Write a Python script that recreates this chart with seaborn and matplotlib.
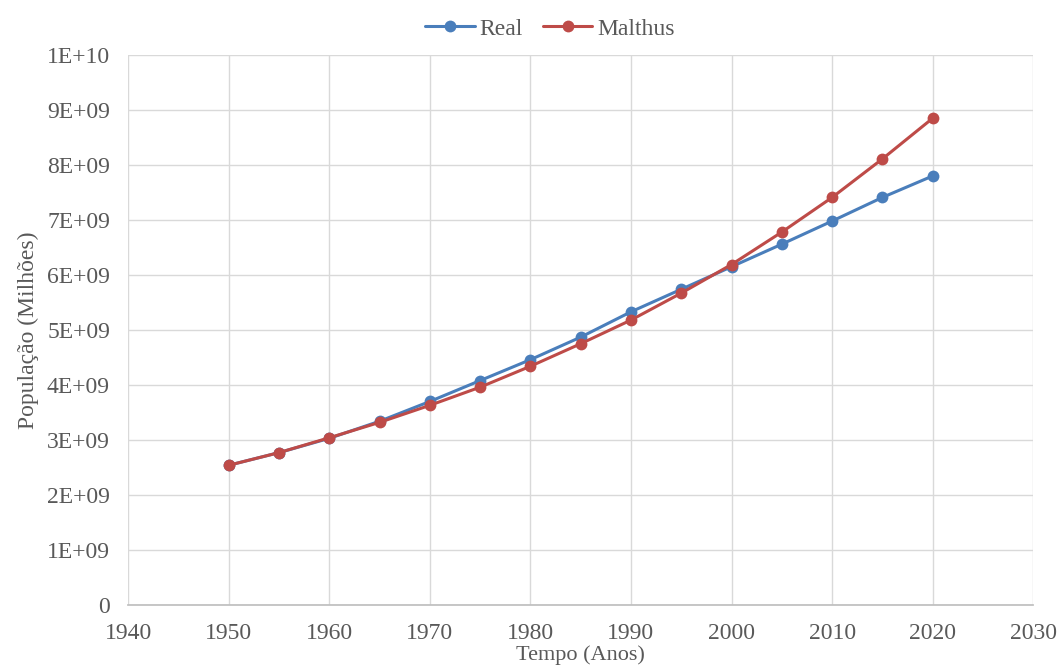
import math
import pandas as pd
import seaborn as sns
import matplotlib.pyplot as plt
from matplotlib.ticker import FuncFormatter

anos = [1950, 1955, 1960, 1965, 1970, 1975, 1980, 1985, 1990, 1995, 2000, 2005, 2010, 2015, 2020]
real = [2.54e9, 2.77e9, 3.03e9, 3.34e9, 3.70e9, 4.08e9, 4.46e9, 4.87e9, 5.33e9, 5.74e9,
        6.15e9, 6.56e9, 6.98e9, 7.41e9, 7.80e9]
malthus = [2.54e9, 2.77e9, 3.04e9, 3.32e9, 3.63e9, 3.96e9, 4.34e9, 4.75e9, 5.18e9, 5.67e9,
           6.19e9, 6.78e9, 7.41e9, 8.11e9, 8.85e9]

df = pd.DataFrame({"ano": anos * 2,
                   "pop": real + malthus,
                   "serie": ["Real"] * len(anos) + ["Malthus"] * len(anos)})

sns.set_theme(style="whitegrid")
plt.rcParams["font.family"] = ["Liberation Serif", "DejaVu Serif"]

fig = plt.figure(figsize=(10.6, 6.7), dpi=100)
ax = fig.add_axes([0.1208, 0.097, 0.854, 0.821])

sns.lineplot(x="ano", y="pop", hue="serie", data=df, ax=ax,
             palette={"Real": "#4A7EBB", "Malthus": "#BE4B48"},
             marker="o", markersize=8.5, markeredgewidth=0, linewidth=2.2)

ax.set_xlim(1940, 2030)
ax.set_ylim(0, 1e10)
ax.set_xticks(range(1940, 2031, 10))
ax.set_yticks([i * 1e9 for i in range(11)])

def fmt(v, pos):
    if v == 0:
        return "0"
    e = int(math.floor(math.log10(v) + 1e-9))
    return "%dE+%02d" % (round(v / 10 ** e), e)

ax.yaxis.set_major_formatter(FuncFormatter(fmt))
ax.grid(True, color="#D9D9D9", linewidth=1)
for s in ["top", "right", "left"]:
    ax.spines[s].set_visible(False)
ax.spines["bottom"].set_color("#BFBFBF")
ax.tick_params(axis="both", labelsize=17, colors="#595959", length=0)
ax.tick_params(axis="y", pad=13)
ax.tick_params(axis="x", pad=13)
ax.set_xlabel("Tempo (Anos)", fontsize=16, color="#595959", labelpad=1)
ax.set_ylabel("População (Milhões)", fontsize=17, color="#595959", labelpad=6)

ax.legend(loc="lower center", bbox_to_anchor=(0.466, 1.0), ncol=2, frameon=False,
          fontsize=17, handlelength=2.1, columnspacing=0.85, handletextpad=0.2,
          labelcolor="#595959", borderaxespad=0.25)

fig.savefig("out.png", dpi=100)
